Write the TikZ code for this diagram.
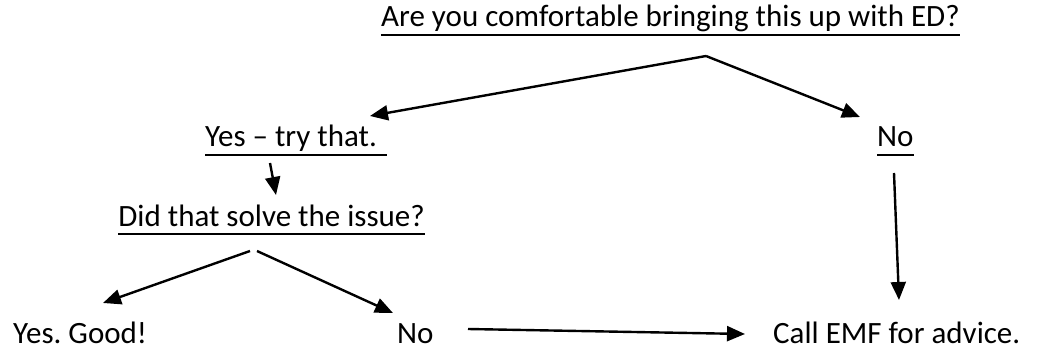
\documentclass[tikz,border=0pt]{standalone}
\usepackage{fontspec}
\setmainfont{Carlito}
\usetikzlibrary{arrows.meta}
\frenchspacing
\newcommand{\ulnode}[1]{\draw[ulstyle] ([yshift=-8pt]#1.base west) -- ([yshift=-8pt]#1.base east);}

\begin{document}
\begin{tikzpicture}[x=1pt,y=-1pt,
	every node/.style={inner sep=0pt,font=\fontsize{31}{37}\selectfont},
	ulstyle/.style={line width=2.6pt},
	arr/.style={line width=2.4pt,-{Triangle[length=18pt,width=15pt]}}]
			\useasboundingbox (0,0) rectangle (1037,350);

			\draw (960,27) node[anchor=base east] (ask) {Are you comfortable bringing this up with ED?};
			\draw (205,147) node[anchor=base west] (tryit) {Yes -- try that.\kern10pt};
			\draw (877,147) node[anchor=base west] (noask) {No};
			\draw (425,226) node[anchor=base east] (solved) {Did that solve the issue?};
			\draw (13,343) node[anchor=base west] (good) {Yes. Good!};
			\draw (397,343) node[anchor=base west] (nosolve) {No};
			\draw (773,343) node[anchor=base west] (emf) {Call EMF for advice.};
			\ulnode{ask}
			\ulnode{tryit}
			\ulnode{noask}
			\ulnode{solved}

			\coordinate (askfork) at (706,56);
			\coordinate (tryin) at (370,116);
			\coordinate (noin) at (860,117);
			\coordinate (tryout) at (270,163);
			\coordinate (solvedin) at (276,195);
			\coordinate (forkl) at (250,251);
			\coordinate (forkr) at (257,251);
			\coordinate (goodin) at (103,303);
			\coordinate (nosolvein) at (393,313);
			\coordinate (nosolveout) at (468,329);
			\coordinate (emfl) at (745,334);
			\coordinate (noout) at (894,173);
			\coordinate (emft) at (899,300);

			\draw[arr] (askfork) -- (tryin);
			\draw[arr] (askfork) -- (noin);
			\draw[arr] (tryout) -- (solvedin);
			\draw[arr] (forkl) -- (goodin);
			\draw[arr] (forkr) -- (nosolvein);
			\draw[arr] (nosolveout) -- (emfl);
			\draw[arr] (noout) -- (emft);

		\end{tikzpicture}
\end{document}
